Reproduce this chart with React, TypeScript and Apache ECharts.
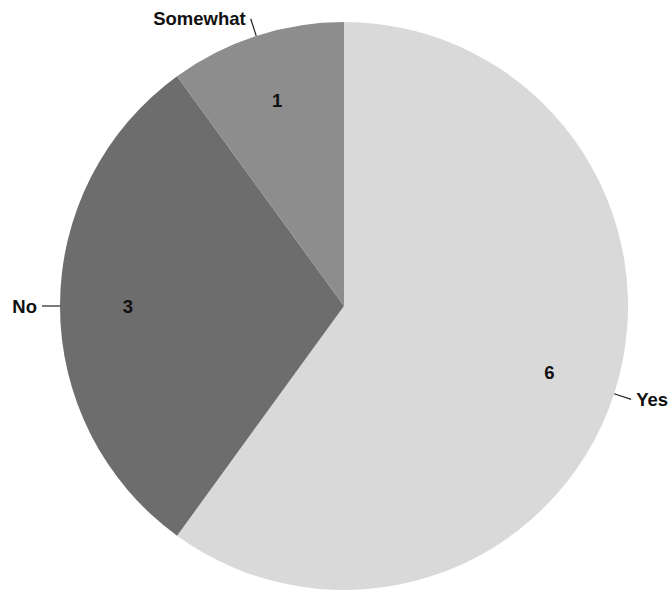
import React, { useEffect, useRef } from "react";
import * as echarts from "echarts";

const categories = ["Yes", "No", "Somewhat"];
const values = [6, 3, 1];
const colors = ["#d9d9d9", "#6d6d6d", "#8d8d8d"];

export default function App() {
  const ref = useRef<HTMLDivElement>(null);
  useEffect(() => {
    if (!ref.current) return;
    const chart = echarts.init(ref.current, null, { renderer: "svg" });
    const data = categories.map((name, i) => ({
      name,
      value: values[i],
      itemStyle: { color: colors[i] },
    }));
    const font = {
      fontFamily: "Liberation Sans, Arial, sans-serif",
      fontWeight: "bold" as const,
      fontSize: 18.5,
      color: "#111",
    };
    chart.setOption({
      animation: false,
      backgroundColor: "#fff",
      series: [
        {
          type: "pie",
          center: [344, 306],
          radius: [0, 284],
          startAngle: 90,
          clockwise: true,
          silent: true,
          avoidLabelOverlap: false,
          data,
          label: { show: true, position: "outside", formatter: "{b}", ...font },
          labelLine: {
            show: true,
            length: 18,
            length2: 0,
            lineStyle: { color: "#222", width: 1.2 },
          },
        },
        {
          type: "pie",
          center: [344, 306],
          radius: [142, 284],
          startAngle: 90,
          clockwise: true,
          silent: true,
          data: data.map((d) => ({ ...d, itemStyle: { color: "rgba(0,0,0,0)" } })),
          label: { show: true, position: "inside", formatter: "{c}", ...font },
          labelLine: { show: false },
        },
      ],
    });
    return () => chart.dispose();
  }, []);
  return (
    <div
      ref={ref}
      style={{ position: "fixed", left: 0, top: 0, width: 670, height: 592 }}
    />
  );
}
